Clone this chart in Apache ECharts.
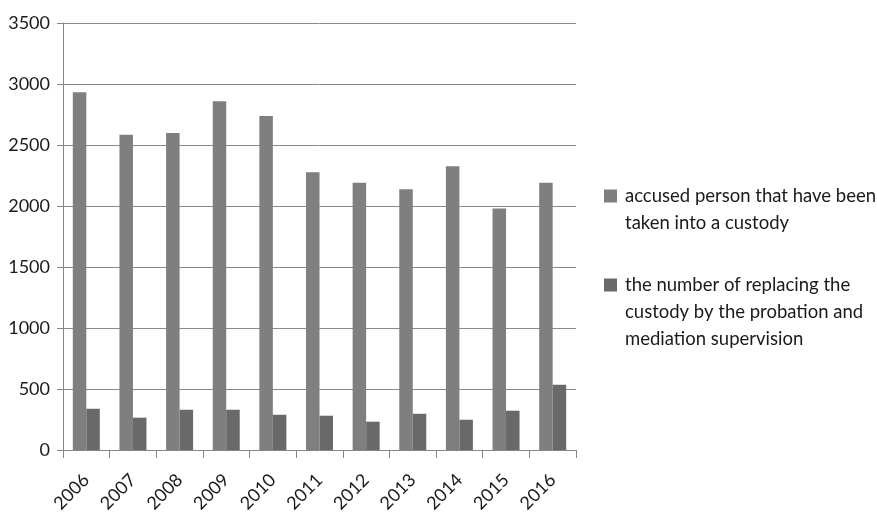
<!DOCTYPE html>
<html>
<head>
<meta charset="utf-8">
<script src="https://cdn.jsdelivr.net/npm/echarts@6/dist/echarts.min.js"></script>
<style>
  html, body { margin: 0; padding: 0; background: #fff; }
  #chart { width: 877px; height: 518px; }
</style>
</head>
<body>
<div id="chart"></div>
<script>
// Years on the category axis
const years = ['2006', '2007', '2008', '2009', '2010', '2011', '2012', '2013', '2014', '2015', '2016'];

// Accused persons taken into custody
const custodyCounts = [2932, 2585, 2599, 2859, 2738, 2277, 2190, 2138, 2326, 1979, 2190];

// Custody replaced by probation and mediation supervision
const replacedCounts = [338, 265, 330, 330, 289, 281, 232, 297, 248, 322, 535];

// Series names and the wrapped text shown for them in the legend
const custodyName = 'accused person that have been taken into a custody';
const replacedName = 'the number of replacing the custody by the probation and mediation supervision';
const custodyLegendLines = ['accused person that have been', 'taken into a custody'];
const replacedLegendLines = ['the number of replacing the', 'custody by the probation and', 'mediation supervision'];

// Value axis ticks
const yMin = 0, yMax = 3500, yStep = 500;

const FONT = 'Lato, "Noto Sans", sans-serif';
const LINE_H = 27;

// The legend centres text on its swatch; leading blank lines push the
// first wrapped line onto the swatch's level.
function legendText(lines) {
  return '\n'.repeat(lines.length - 1) + lines.join('\n');
}

function legendBlock(name, lines, swatchCenterY) {
  const total = (lines.length * 2 - 1) * LINE_H;
  return {
    orient: 'vertical',
    left: 604,
    top: swatchCenterY - total / 2,
    padding: 0,
    itemWidth: 13,
    itemHeight: 13,
    icon: 'rect',
    data: [name],
    selectedMode: false,
    formatter: () => legendText(lines),
    textStyle: {
      fontFamily: FONT,
      fontSize: 18.5,
      color: '#1a1a1a',
      lineHeight: LINE_H,
      padding: [0, 0, 0, 3]
    }
  };
}

const chart = echarts.init(document.getElementById('chart'), null, { renderer: 'canvas' });

chart.setOption({
  animation: false,
  backgroundColor: '#ffffff',
  grid: { left: 63, right: 301, top: 23, bottom: 68, containLabel: false },
  legend: [
    legendBlock(custodyName, custodyLegendLines, 196),
    legendBlock(replacedName, replacedLegendLines, 285)
  ],
  xAxis: {
    type: 'category',
    data: years,
    axisLine: { show: true, lineStyle: { color: '#868686', width: 1 } },
    axisTick: { show: true, length: 8, lineStyle: { color: '#868686' } },
    axisLabel: {
      rotate: 45,
      margin: 27,
      fontFamily: FONT,
      fontSize: 18,
      color: '#1a1a1a'
    },
    splitLine: { show: false }
  },
  yAxis: {
    type: 'value',
    min: yMin,
    max: yMax,
    interval: yStep,
    axisLine: { show: true, lineStyle: { color: '#868686', width: 1 } },
    axisTick: { show: true, length: 6, lineStyle: { color: '#868686' } },
    axisLabel: {
      margin: 13,
      fontFamily: FONT,
      fontSize: 18,
      color: '#1a1a1a',
      formatter: (v) => String(v)
    },
    splitLine: { show: true, lineStyle: { color: '#8a8a8a', width: 1 } }
  },
  series: [
    {
      name: custodyName,
      type: 'bar',
      data: custodyCounts,
      barWidth: 13.5,
      barGap: '0%',
      itemStyle: { color: '#7f7f7f' }
    },
    {
      name: replacedName,
      type: 'bar',
      data: replacedCounts,
      barWidth: 13.5,
      barGap: '0%',
      itemStyle: { color: '#696969' }
    }
  ]
});
</script>
</body>
</html>
